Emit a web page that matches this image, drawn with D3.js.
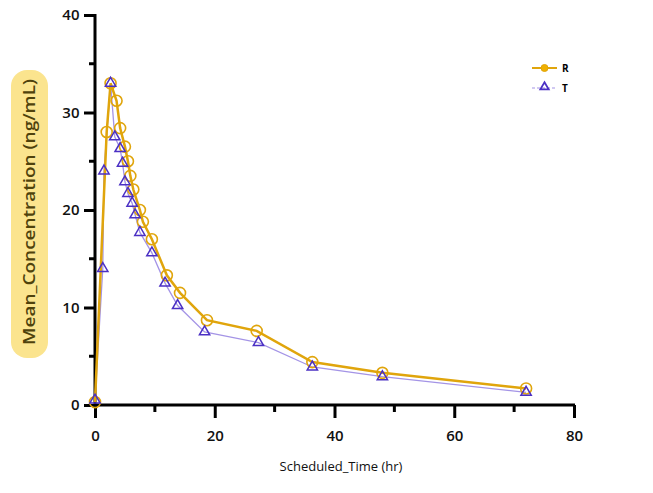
<!DOCTYPE html>
<html lang="en">
<head>
    <meta charset="UTF-8">
    <title>Mean concentration</title>
    <script src="https://d3js.org/d3.v7.min.js"></script>
    <style>
        body { margin: 0; background: #fff; }
        text { font-family: 'Open Sans', sans-serif; }
    </style>
</head>
<body>
<script>
    const width  = 653;
    const height = 493;

    // R (reference) and T (test) mean concentrations
    const rTime = [0, 1.95, 2.6, 3.6, 4.2, 5, 5.5, 5.9, 6.4, 7.5, 8, 9.5, 12, 14.2, 18.7, 27, 36.3, 48, 72];
    const rConc = [0.3, 28, 33, 31.2, 28.4, 26.5, 25, 23.5, 22.1, 20, 18.8, 17, 13.3, 11.5, 8.7, 7.6, 4.4, 3.3, 1.7];
    const tTime = [0, 1.3, 1.5, 2.6, 3.3, 4.2, 4.6, 5, 5.5, 6.2, 6.7, 7.5, 9.5, 11.7, 13.8, 18.3, 27.3, 36.3, 48, 72];
    const tConc = [0.5, 14, 24, 33, 27.5, 26.3, 24.8, 22.9, 21.7, 20.7, 19.5, 17.7, 15.6, 12.5, 10.2, 7.5, 6.4, 3.9, 2.9, 1.3];

    const xTicks = [0, 20, 40, 60, 80];
    const xMinor = [10, 30, 50, 70];
    const yTicks = [0, 10, 20, 30, 40];
    const yMinor = [5, 15, 25, 35];

    const x = d3.scaleLinear().domain([0, 80]).range([95, 574]);
    const y = d3.scaleLinear().domain([0, 40]).range([405, 15]);

    const svg = d3.select("body").append("svg")
            .attr("width", width)
            .attr("height", height);

    // y label with yellow highlight
    svg.append("rect")
        .attr("x", 11).attr("y", 70)
        .attr("width", 37).attr("height", 288)
        .attr("rx", 16)
        .style("fill", "#fbe48e");
    svg.append("text")
        .attr("transform", "translate(35,212) rotate(-90)")
        .attr("text-anchor", "middle")
        .attr("textLength", 266)
        .attr("lengthAdjust", "spacingAndGlyphs")
        .style("font-size", "16px")
        .style("font-weight", "600")
        .style("fill", "#4f420c")
        .text("Mean_Concentration (ng/mL)");

    // axes
    const xAxis = d3.axisBottom(x).tickValues(xTicks).tickSize(13).tickFormat(d3.format("d"));
    const yAxis = d3.axisLeft(y).tickValues(yTicks).tickSize(11).tickFormat(d3.format("d"));

    const gx = svg.append("g").attr("transform", "translate(0,405)").call(xAxis);
    const gy = svg.append("g").attr("transform", "translate(95,0)").call(yAxis);

    [gx, gy].forEach(g => {
        g.select(".domain").remove();
        g.selectAll(".tick line").attr("stroke", "#000").attr("stroke-width", 3);
        g.selectAll(".tick text")
            .style("font-size", "15px")
            .style("font-weight", "600")
            .style("fill", "#111");
    });
    gx.selectAll(".tick text").attr("dy", "1.3em");
    gy.selectAll(".tick text").attr("dx", "-0.1em");

    svg.append("g").selectAll("line").data(xMinor).join("line")
        .attr("x1", d => x(d)).attr("x2", d => x(d))
        .attr("y1", 405).attr("y2", 412)
        .attr("stroke", "#000").attr("stroke-width", 3);
    svg.append("g").selectAll("line").data(yMinor).join("line")
        .attr("x1", 89).attr("x2", 95)
        .attr("y1", d => y(d)).attr("y2", d => y(d))
        .attr("stroke", "#000").attr("stroke-width", 3);

    svg.append("line")
        .attr("x1", 95).attr("x2", 95).attr("y1", y(40) - 1).attr("y2", 405)
        .attr("stroke", "#000").attr("stroke-width", 3);
    svg.append("line")
        .attr("x1", 94).attr("x2", x(80) + 1).attr("y1", 405).attr("y2", 405)
        .attr("stroke", "#000").attr("stroke-width", 3);

    svg.append("text")
        .attr("x", 341).attr("y", 471)
        .attr("text-anchor", "middle")
        .style("font-size", "13px")
        .style("fill", "#111")
        .text("Scheduled_Time (hr)");

    // series
    const rColor = "#e0a50c";
    const tColor = "#4b30c4";
    const line = d3.line().x(d => x(d[0])).y(d => y(d[1]));
    const rData = d3.zip(rTime, rConc);
    const tData = d3.zip(tTime, tConc);
    const tri = d3.symbol().type(d3.symbolTriangle).size(46);

    svg.append("path").datum(tData)
        .attr("d", line)
        .style("fill", "none")
        .style("stroke", "#a494e6")
        .style("stroke-width", 1.3);
    svg.append("path").datum(rData)
        .attr("d", line)
        .style("fill", "none")
        .style("stroke", rColor)
        .style("stroke-width", 2.5);

    svg.append("g").selectAll("circle").data(rData).join("circle")
        .attr("cx", d => x(d[0]))
        .attr("cy", d => y(d[1]))
        .attr("r", 5.5)
        .style("fill", "none")
        .style("stroke", rColor)
        .style("stroke-width", 1.6);

    svg.append("g").selectAll("path").data(tData).join("path")
        .attr("transform", d => "translate(" + [x(d[0]), y(d[1])] + ")")
        .attr("d", tri)
        .style("fill", "none")
        .style("stroke", tColor)
        .style("stroke-width", 1.5);

    // legend
    const legend = svg.append("g").attr("transform", "translate(532,68)");
    legend.append("line").attr("x1", 0).attr("x2", 25).attr("y1", 0).attr("y2", 0)
        .style("stroke", rColor).style("stroke-width", 2);
    legend.append("circle").attr("cx", 12.5).attr("cy", 0).attr("r", 3.5)
        .style("fill", "#f0b000").style("stroke", rColor);
    legend.append("line").attr("x1", 0).attr("x2", 25).attr("y1", 20).attr("y2", 20)
        .style("stroke", "#a494e6").style("stroke-width", 1.2).style("stroke-dasharray", "3,2");
    legend.append("path").attr("transform", "translate(12.5,19)")
        .attr("d", d3.symbol().type(d3.symbolTriangle).size(30))
        .style("fill", "none").style("stroke", tColor).style("stroke-width", 1.8);
    legend.selectAll("text").data(["R", "T"]).join("text")
        .attr("x", 30)
        .attr("y", (d, i) => i * 20 + 4)
        .style("font-size", "10px")
        .style("font-weight", "bold")
        .text(d => d);
</script>
</body>
</html>
